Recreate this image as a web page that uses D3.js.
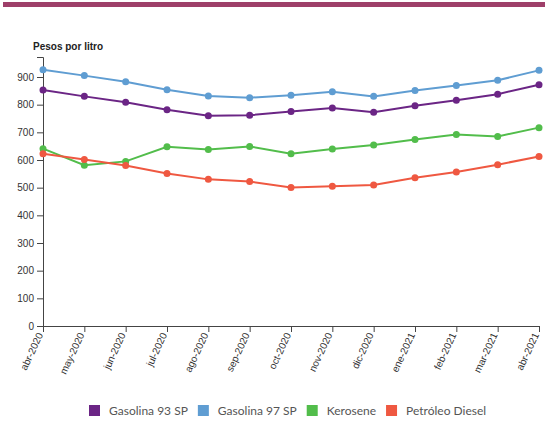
<!DOCTYPE html>
<html>
<head>
<meta charset="utf-8">
<script src="https://cdn.jsdelivr.net/npm/d3@7"></script>
<style>
  body { margin: 0; background: #fff; }
  svg { display: block; }
</style>
</head>
<body>
<svg width="545" height="423"></svg>
<script>
const months = ['abr-2020','may-2020','jun-2020','jul-2020','ago-2020','sep-2020','oct-2020',
  'nov-2020','dic-2020','ene-2021','feb-2021','mar-2021','abr-2021'];

const seriesNames = ['Gasolina 93 SP', 'Gasolina 97 SP', 'Kerosene', 'Petróleo Diesel'];
const gas93 = [853, 830, 809, 782, 760, 762, 775, 788, 773, 796, 816, 838, 872];
const gas97 = [926, 905, 883, 854, 831, 825, 834, 847, 830, 851, 869, 888, 924];
const kerosene = [641, 581, 595, 648, 638, 649, 623, 640, 654, 674, 692, 685, 717];
const diesel = [623, 602, 580, 551, 530, 522, 501, 505, 510, 536, 557, 583, 613];
const yTicks = [0, 100, 200, 300, 400, 500, 600, 700, 800, 900];

const colors = ['#6b2585', '#5f9dd2', '#52bd4b', '#ef5841'];
const allSeries = [gas93, gas97, kerosene, diesel];

const svg = d3.select('svg');

// top band
svg.append('rect')
  .attr('x', 3).attr('y', 2)
  .attr('width', 542).attr('height', 5)
  .attr('fill', '#9e3f69');

const margin = { left: 43, right: 6, top: 57, bottom: 97 };
const width = +svg.attr('width');
const height = +svg.attr('height');

const xScale = d3.scalePoint()
  .domain(months)
  .range([margin.left, width - margin.right]);

const yScale = d3.scaleLinear()
  .domain([0, d3.max(allSeries.flat()) * 1.05])
  .range([height - margin.bottom, margin.top]);

const yAxis = d3.axisLeft(yScale).tickValues(yTicks).tickSizeOuter(6);
const xAxis = d3.axisBottom(xScale).tickSizeOuter(6);

const gy = svg.append('g')
  .attr('transform', `translate(${margin.left},0)`)
  .call(yAxis);

const gx = svg.append('g')
  .attr('transform', `translate(0,${height - margin.bottom})`)
  .call(xAxis);

[gx, gy].forEach(g => {
  g.selectAll('path, line').attr('stroke', '#444');
  g.selectAll('text')
    .attr('fill', '#333')
    .style('font-family', 'Liberation Sans, Arial, sans-serif')
    .style('font-size', '10px');
});

gx.selectAll('text')
  .attr('text-anchor', 'end')
  .attr('x', -8)
  .attr('y', 0)
  .attr('dy', '0.35em')
  .attr('transform', 'rotate(-65)');

svg.append('text')
  .attr('x', 33).attr('y', 50)
  .attr('font-family', 'Liberation Sans, Arial, sans-serif')
  .attr('font-size', '10px')
  .attr('font-weight', 'bold')
  .attr('fill', '#222')
  .text('Pesos por litro');

const line = d3.line()
  .x((d, i) => xScale(months[i]))
  .y(d => yScale(d));

allSeries.forEach((vals, k) => {
  svg.append('path')
    .datum(vals)
    .attr('fill', 'none')
    .attr('stroke', colors[k])
    .attr('stroke-width', 2)
    .attr('d', line);
  svg.selectAll(null)
    .data(vals)
    .enter()
    .append('circle')
    .attr('cx', (d, i) => xScale(months[i]))
    .attr('cy', d => yScale(d))
    .attr('r', 3.5)
    .attr('fill', colors[k]);
});

// legend
const legend = svg.append('g').attr('transform', 'translate(89,405)');
let lx = 0;
seriesNames.forEach((name, k) => {
  const item = legend.append('g').attr('transform', `translate(${lx},0)`);
  item.append('rect').attr('width', 11).attr('height', 11).attr('fill', colors[k]);
  const t = item.append('text')
    .attr('x', 20).attr('y', 10)
    .attr('font-family', 'Lato, sans-serif')
    .attr('font-size', '12px')
    .attr('fill', '#555')
    .text(name);
  lx += 20 + t.node().getComputedTextLength() + 10;
});
</script>
</body>
</html>
